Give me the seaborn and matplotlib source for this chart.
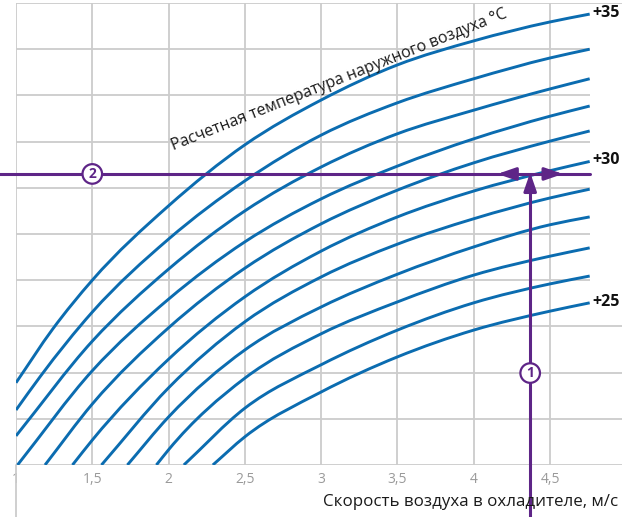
import numpy as np
import pandas as pd
import matplotlib
matplotlib.use("Agg")
import matplotlib.pyplot as plt
import seaborn as sns
from matplotlib.path import Path
from matplotlib.patches import PathPatch

# ---------------------------------------------------------------------
# Data: x = air speed in cooler (m/s),
# y = chart level (10 grid steps, no scale printed)
# ---------------------------------------------------------------------
temps = [35, 34, 33, 32, 31, 30, 29, 28, 27, 26, 25]
grid_x = [1.5, 2.0, 2.5, 3.0, 3.5, 4.0, 4.5, 4.76]

x35 = [1.0, 1.24] + grid_x
y35 = [1.78, 2.94, 4.00, 5.61, 6.93, 7.90, 8.66, 9.18, 9.59, 9.76]
x34 = [1.0, 1.16] + grid_x
y34 = [1.19, 1.92, 3.31, 4.89, 6.15, 7.14, 7.84, 8.36, 8.81, 9.00]
x33 = [1.0] + grid_x
y33 = [0.63, 2.68, 4.24, 5.50, 6.45, 7.17, 7.68, 8.14, 8.36]
x32 = [1.01] + grid_x
y32 = [0.0, 2.04, 3.59, 4.83, 5.76, 6.47, 7.06, 7.55, 7.77]
x31 = [1.19] + grid_x
y31 = [0.0, 1.32, 2.97, 4.26, 5.22, 5.95, 6.54, 7.01, 7.23]
x30 = [1.37] + grid_x
y30 = [0.0, 0.54, 2.29, 3.64, 4.63, 5.37, 5.93, 6.37, 6.57]
x29 = [1.56] + grid_x[1:]
y29 = [0.0, 1.67, 3.10, 4.07, 4.78, 5.33, 5.78, 5.97]
x28 = [1.73] + grid_x[1:]
y28 = [0.0, 1.04, 2.49, 3.42, 4.13, 4.72, 5.20, 5.37]
x27 = [1.92] + grid_x[1:]
y27 = [0.0, 0.33, 1.88, 2.84, 3.53, 4.11, 4.52, 4.70]
x26 = [2.10] + grid_x[2:]
y26 = [0.0, 1.23, 2.17, 2.92, 3.51, 3.92, 4.09]
x25 = [2.29] + grid_x[2:]
y25 = [0.0, 0.61, 1.58, 2.34, 2.92, 3.33, 3.51]

xticks = [1, 1.5, 2, 2.5, 3, 3.5, 4, 4.5, 5]
xtick_labels = ["1", "1,5", "2", "2,5", "3", "3,5", "4", "4,5", "5"]
end_labels = {35: "+35", 30: "+30", 25: "+25"}
short_grid_levels = [4, 5, 6, 7, 8, 9]     # these stop where the curves end
full_grid_levels = [0, 1, 2, 3, 10]

# worked example (purple construction lines)
speed_sel = 4.37
level_sel = 6.30

BLUE = "#0b6cb0"
PURPLE = "#5e2587"
GRID = "#cccccc"

curves = {35: (x35, y35), 34: (x34, y34), 33: (x33, y33), 32: (x32, y32),
          31: (x31, y31), 30: (x30, y30), 29: (x29, y29), 28: (x28, y28),
          27: (x27, y27), 26: (x26, y26), 25: (x25, y25)}
df = pd.concat([pd.DataFrame({"speed": xs, "level": ys, "temp": t})
                for t, (xs, ys) in curves.items()], ignore_index=True)

sns.set_theme(style="white")
plt.rcParams["font.family"] = ["Open Sans", "DejaVu Sans"]

fig = plt.figure(figsize=(6.22, 5.17), dpi=100)
ax = fig.add_axes([16 / 622, 52 / 517, 610.3 / 622, 462 / 517])

sns.lineplot(data=df, x="speed", y="level", hue="temp", palette=[BLUE] * len(temps),
             estimator=None, sort=False, legend=False, lw=2.1, ax=ax, zorder=3)

# draw each seaborn line as a smooth cubic through its own points
for line in list(ax.lines):
    xs = np.asarray(line.get_xdata(), float)
    ys = np.asarray(line.get_ydata(), float)
    m = np.gradient(ys, xs)
    verts, codes = [(xs[0], ys[0])], [Path.MOVETO]
    for i in range(len(xs) - 1):
        h = xs[i + 1] - xs[i]
        verts += [(xs[i] + h / 3, ys[i] + m[i] * h / 3),
                  (xs[i + 1] - h / 3, ys[i + 1] - m[i + 1] * h / 3),
                  (xs[i + 1], ys[i + 1])]
        codes += [Path.CURVE4] * 3
    ax.add_patch(PathPatch(Path(verts, codes), fc="none", ec=line.get_color(),
                           lw=line.get_linewidth(), zorder=3, capstyle="butt"))
    line.set_visible(False)

ax.set_xlim(1, 5)
ax.set_ylim(0, 10)
ax.set_xticks(xticks)
ax.set_xticklabels(xtick_labels, color="#9a9a9a", fontsize=10)
ax.set_yticks([])
ax.tick_params(length=0, pad=5)
ax.grid(True, axis="x", color=GRID, lw=1.3)
ax.hlines(short_grid_levels, 1, x35[-1], color=GRID, lw=1.3, zorder=1)
ax.hlines(full_grid_levels, 1, 5, color=GRID, lw=1.3, zorder=1)
for s in ax.spines.values():
    s.set_visible(False)
ax.set_xlabel("")
ax.set_ylabel("")
# left grid line runs on below the axis
ax.plot([1, 1], [0, -1.2], color=GRID, lw=1.3, clip_on=False, zorder=1)

# end labels
for t, lab in end_labels.items():
    xs, ys = curves[t]
    ax.annotate(lab, xy=(xs[-1], ys[-1]), xytext=(3, 1), textcoords="offset pixels",
                ha="left", va="center", fontsize=11.5, fontweight="bold", color="#111111")

# curve family caption
ax.text(2.03, 6.82, "Расчетная температура наружного воздуха °C", rotation=21.7,
        rotation_mode="anchor", ha="left", va="baseline", fontsize=11.5, color="#1a1a1a")

# purple construction
ax.plot([0.89, x35[-1]], [level_sel, level_sel], color=PURPLE, lw=2.2, clip_on=False, zorder=4)
ax.plot([speed_sel, speed_sel], [-1.2, 5.95], color=PURPLE, lw=2.2, clip_on=False, zorder=4)
head = dict(arrowstyle="-|>,head_length=1.1,head_width=0.38", color=PURPLE, lw=2.2,
            shrinkA=0, shrinkB=0, mutation_scale=10)
ax.annotate("", xy=(speed_sel, level_sel + 0.03), xytext=(speed_sel, 5.95), arrowprops=head, zorder=5)
ax.annotate("", xy=(4.155, level_sel), xytext=(4.27, level_sel), arrowprops=head, zorder=5)
ax.annotate("", xy=(4.585, level_sel), xytext=(4.48, level_sel), arrowprops=head, zorder=5)

circ = dict(boxstyle="circle,pad=0.2", fc="white", ec=PURPLE, lw=1.6)
ax.text(1.5, level_sel, "2", ha="center", va="center", fontsize=10, fontweight="bold",
        color=PURPLE, bbox=circ, zorder=6)
ax.text(speed_sel, 1.99, "1", ha="center", va="center", fontsize=10, fontweight="bold",
        color=PURPLE, bbox=circ, zorder=6)

fig.text(323 / 622, 1 - 506 / 517, "Скорость воздуха в охладителе, м/с", ha="left",
         va="baseline", fontsize=12.2, color="#1a1a1a")

fig.savefig("out.png", dpi=100)
